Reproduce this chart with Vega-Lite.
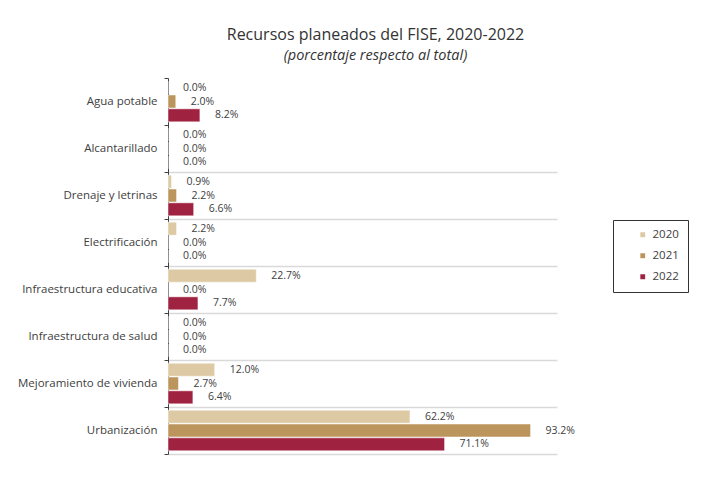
{
  "$schema": "https://vega.github.io/schema/vega-lite/v6.json",
  "autosize": "none",
  "width": 389,
  "height": 376,
  "padding": {"left": 168, "top": 78, "right": 156, "bottom": 28},
  "background": "white",
  "title": {
    "text": "Recursos planeados del FISE, 2020-2022",
    "subtitle": "(porcentaje respecto al total)",
    "anchor": "middle",
    "dx": 13,
    "offset": 10,
    "font": "Open Sans",
    "fontSize": 16,
    "fontWeight": "normal",
    "color": "#333333",
    "subtitleFont": "Open Sans",
    "subtitleFontSize": 14.5,
    "subtitleFontStyle": "italic",
    "subtitleColor": "#333333",
    "subtitlePadding": 6
  },
  "data": {
    "values": [
      {"cat": "Agua potable", "year": "2020", "value": 0.0},
      {"cat": "Agua potable", "year": "2021", "value": 2.0},
      {"cat": "Agua potable", "year": "2022", "value": 8.2},
      {"cat": "Alcantarillado", "year": "2020", "value": 0.0},
      {"cat": "Alcantarillado", "year": "2021", "value": 0.0},
      {"cat": "Alcantarillado", "year": "2022", "value": 0.0},
      {"cat": "Drenaje y letrinas", "year": "2020", "value": 0.9},
      {"cat": "Drenaje y letrinas", "year": "2021", "value": 2.2},
      {"cat": "Drenaje y letrinas", "year": "2022", "value": 6.6},
      {"cat": "Electrificación", "year": "2020", "value": 2.2},
      {"cat": "Electrificación", "year": "2021", "value": 0.0},
      {"cat": "Electrificación", "year": "2022", "value": 0.0},
      {"cat": "Infraestructura educativa", "year": "2020", "value": 22.7},
      {"cat": "Infraestructura educativa", "year": "2021", "value": 0.0},
      {"cat": "Infraestructura educativa", "year": "2022", "value": 7.7},
      {"cat": "Infraestructura de salud", "year": "2020", "value": 0.0},
      {"cat": "Infraestructura de salud", "year": "2021", "value": 0.0},
      {"cat": "Infraestructura de salud", "year": "2022", "value": 0.0},
      {"cat": "Mejoramiento de vivienda", "year": "2020", "value": 12.0},
      {"cat": "Mejoramiento de vivienda", "year": "2021", "value": 2.7},
      {"cat": "Mejoramiento de vivienda", "year": "2022", "value": 6.4},
      {"cat": "Urbanización", "year": "2020", "value": 62.2},
      {"cat": "Urbanización", "year": "2021", "value": 93.2},
      {"cat": "Urbanización", "year": "2022", "value": 71.1}
    ]
  },
  "encoding": {
    "y": {
      "field": "cat",
      "type": "nominal",
      "sort": null,
      "scale": {"paddingInner": 0, "paddingOuter": 0},
      "axis": {
        "title": null,
        "tickBand": "extent",
        "grid": true,
        "gridColor": "#d9d9d9",
        "gridWidth": 1.5,
        "gridOpacity": {"condition": {"test": "datum.value === 'Agua potable' || !datum.value", "value": 0}, "value": 1},
        "domainColor": "#404040",
        "tickColor": "#404040",
        "tickSize": 4,
        "labelPadding": 7,
        "labelFont": "Open Sans",
        "labelFontSize": 11.5,
        "labelColor": "#404040"
      }
    },
    "yOffset": {
      "field": "year",
      "type": "nominal",
      "scale": {"paddingInner": 0.06, "paddingOuter": 0.23}
    },
    "x": {
      "field": "value",
      "type": "quantitative",
      "scale": {"domain": [0, 100]},
      "axis": null
    }
  },
  "layer": [
    {
      "mark": {"type": "bar", "stroke": "white", "strokeWidth": 0.5},
      "encoding": {
        "color": {
          "field": "year",
          "type": "nominal",
          "scale": {"domain": ["2020", "2021", "2022"], "range": ["#ddc9a3", "#bc955c", "#9f2241"]},
          "legend": {
            "title": null,
            "orient": "none",
            "legendX": 445,
            "legendY": 142,
            "symbolType": "square",
            "symbolSize": 40,
            "symbolOffset": 15,
            "labelFont": "Open Sans",
            "labelFontSize": 11.5,
            "labelColor": "#404040",
            "labelOffset": 4,
            "rowPadding": 8,
            "padding": 9,
            "strokeColor": "#333333",
            "fillColor": "white"
          }
        }
      }
    },
    {
      "mark": {
        "type": "text",
        "align": "left",
        "baseline": "middle",
        "dx": 15,
        "font": "Open Sans",
        "fontSize": 10.5,
        "color": "#404040",
        "text": {"expr": "format(datum.value, '.1f') + '%'"}
      }
    }
  ],
  "config": {"view": {"stroke": null}}
}
